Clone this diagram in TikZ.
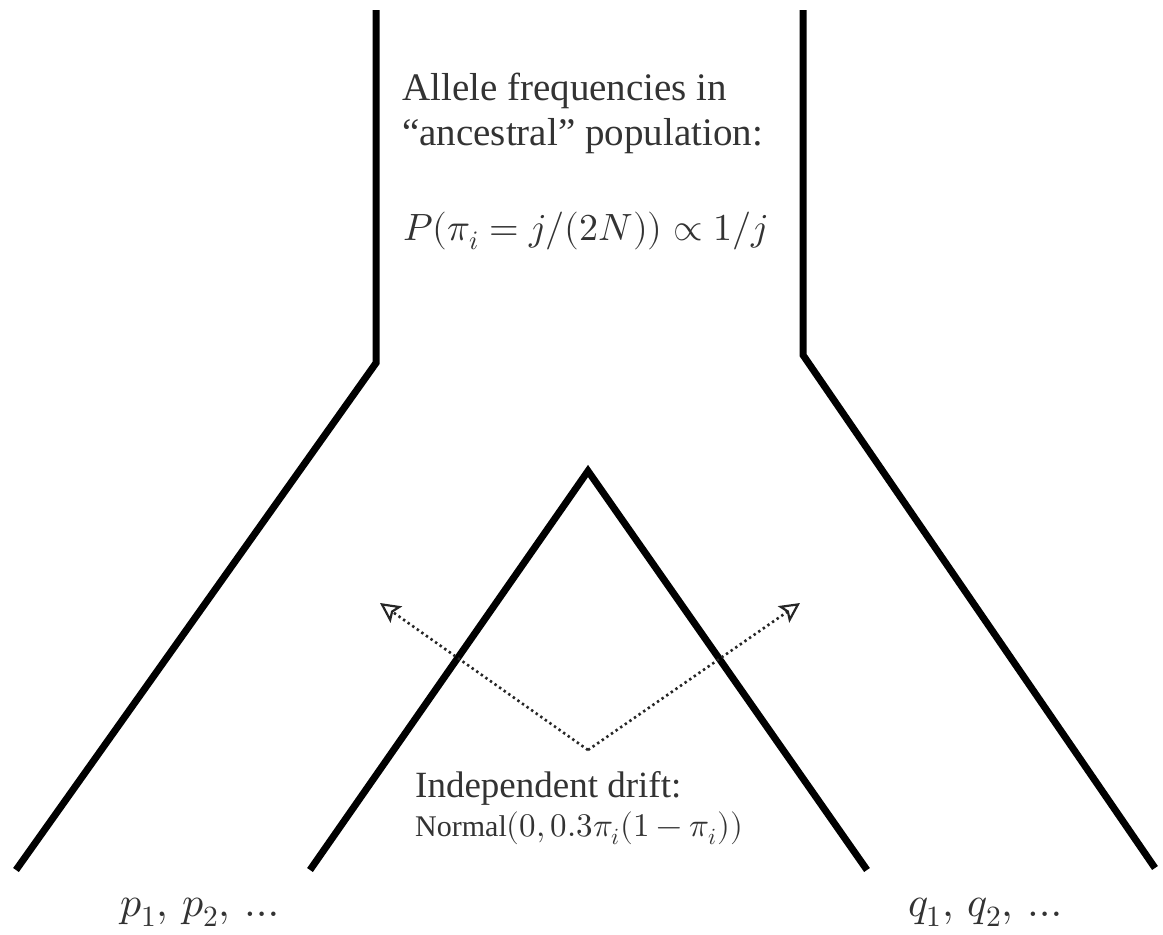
\documentclass[tikz,border=0pt]{standalone}
\usepackage{fontspec}
\usepackage{unicode-math}
\setmainfont{Liberation Serif}
\setmathfont{Latin Modern Math}
\usetikzlibrary{arrows.meta}
\begin{document}
\begin{tikzpicture}[x=1pt,y=-1pt,
  branch/.style={line width=7pt, line join=miter, black},
  drift/.style={line width=2.6pt, dash pattern=on 2.4pt off 3.2pt, black!85,
    -{Stealth[open, length=20pt, width=20pt, inset=4pt, line width=2.2pt]}},
  lbl/.style={text=black!80, inner sep=0pt}]
\useasboundingbox (0,0) rectangle (1163,935);
% outer branches
\coordinate (lt) at (376,10);
\coordinate (lk) at (376,363);
\coordinate (lf) at (16,870);
\coordinate (rt) at (803,10);
\coordinate (rk) at (803,355);
\coordinate (rf) at (1155,868);
\draw[branch] (lt) -- (lk) -- (lf);
\draw[branch] (rt) -- (rk) -- (rf);
% inner branch
\coordinate (apex) at (588,471);
\coordinate (il) at (310,870);
\coordinate (ir) at (867,870);
\draw[branch] (il) -- (apex) -- (ir);
% drift arrows
\coordinate (o) at (588,750);
\coordinate (al) at (380,603);
\coordinate (ar) at (800,603);
\draw[drift] (o) -- (al);
\draw[drift] (o) -- (ar);
% texts
\node[lbl, anchor=base west, font=\fontsize{39}{45}\selectfont] (t1) at (402,100) {Allele frequencies in};
\node[lbl, anchor=base west, font=\fontsize{39}{45}\selectfont] (t2) at (402,145) {``ancestral'' population:};
\node[lbl, anchor=base west, font=\fontsize{38}{45}\selectfont] (t3) at (403,240) {$P(\pi_i = j/(2N)) \propto 1/j$};
\node[lbl, anchor=base west, font=\fontsize{37}{40}\selectfont] (t4) at (415,797) {Independent drift:};
\node[lbl, anchor=base west, font=\fontsize{30}{34}\selectfont] (t5) at (415,836) {Normal{\fontsize{33}{38}\selectfont$(0,0.3\pi_i(1-\pi_i))$}};
\node[lbl, anchor=base west, font=\fontsize{42}{48}\selectfont] (p) at (120,916) {$p_1,\,p_2,\,\ldots$};
\node[lbl, anchor=base west, font=\fontsize{42}{48}\selectfont] (q) at (908,916) {$q_1,\,q_2,\,\ldots$};
\end{tikzpicture}
\end{document}
